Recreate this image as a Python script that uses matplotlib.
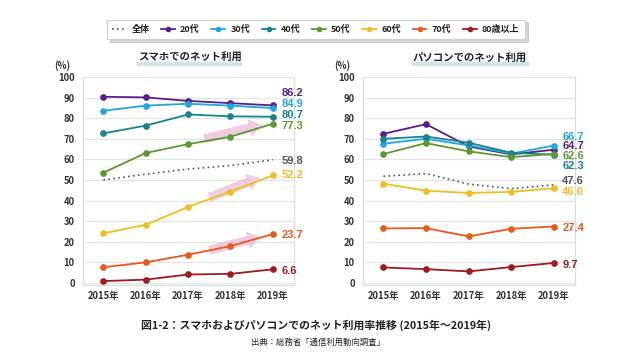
import matplotlib
matplotlib.use("Agg")
import matplotlib.pyplot as plt
from matplotlib.patches import FancyArrowPatch, Rectangle
from matplotlib.lines import Line2D

plt.rcParams['font.family'] = ['Noto Sans CJK JP', 'DejaVu Sans']

years = [2015, 2016, 2017, 2018, 2019]
year_labels = ["2015年", "2016年", "2017年", "2018年", "2019年"]
groups = ["全体", "20代", "30代", "40代", "50代", "60代", "70代", "80歳以上"]

smart = {
    "全体":   [50.0, 52.8, 55.3, 57.0, 59.8],
    "20代":   [90.4, 90.1, 88.4, 87.3, 86.2],
    "30代":   [83.6, 86.1, 87.0, 86.1, 84.9],
    "40代":   [72.6, 76.4, 81.8, 80.9, 80.7],
    "50代":   [53.5, 63.1, 67.4, 71.0, 77.3],
    "60代":   [24.1, 28.2, 36.9, 44.4, 52.2],
    "70代":   [7.6, 10.0, 13.7, 17.9, 23.7],
    "80歳以上": [0.9, 1.6, 4.1, 4.4, 6.6],
}
pc = {
    "全体":   [51.8, 53.1, 48.0, 45.8, 47.6],
    "20代":   [72.4, 77.1, 66.3, 62.4, 64.7],
    "30代":   [67.6, 70.0, 66.8, 62.8, 66.7],
    "40代":   [70.0, 71.1, 68.1, 63.2, 62.3],
    "50代":   [62.6, 67.9, 63.9, 61.1, 62.6],
    "60代":   [48.2, 44.8, 43.7, 44.2, 46.0],
    "70代":   [26.5, 26.6, 22.6, 26.3, 27.4],
    "80歳以上": [7.5, 6.7, 5.6, 7.7, 9.7],
}
# label vertical positions (adjusted to avoid overlap)
smart_label_y = {"全体": 59.4, "20代": 92.3, "30代": 87.0, "40代": 81.6, "50代": 76.3,
                 "60代": 52.2, "70代": 23.2, "80歳以上": 5.9}
pc_label_y = {"全体": 49.3, "20代": 66.7, "30代": 71.0, "40代": 57.0, "50代": 61.8,
              "60代": 44.0, "70代": 26.6, "80歳以上": 8.8}

colors = {"全体": "#555555", "20代": "#5a1e8a", "30代": "#1ea7e1", "40代": "#17848f",
          "50代": "#5a9a30", "60代": "#f0be24", "70代": "#e85a1a", "80歳以上": "#9e1b20"}
label_colors = dict(colors)
label_colors["全体"] = "#555555"

yticks = [0, 10, 20, 30, 40, 50, 60, 70, 80, 90, 100]

fig = plt.figure(figsize=(6.4, 3.6), dpi=100)
fig.patch.set_facecolor("white")

axL = fig.add_axes([83/640, 1-285/360, 211/640, 208/360])
axR = fig.add_axes([363/640, 1-285/360, 212/640, 208/360])

def draw(ax, data, label_y, title, title_cx, band):
    for g in groups:
        if g == "全体":
            ax.plot(years, data[g], color=colors[g], lw=1.2, linestyle=(0, (1, 2)),
                    zorder=3)
        else:
            ax.plot(years, data[g], color=colors[g], lw=1.3, marker='o', ms=3.8,
                    zorder=4)
        ax.text(2019.2, label_y[g], f"{data[g][-1]:.1f}", color=label_colors[g],
                fontsize=8, fontweight='bold', va='center', ha='left', zorder=6,
                family=['Liberation Sans', 'DejaVu Sans'])
    ax.set_ylim(-1, 100)
    ax.set_xlim(2014.52, 2019.5)
    ax.set_yticks(yticks)
    ax.set_xticks(years)
    ax.set_xticklabels(year_labels)
    ax.tick_params(length=0, labelsize=6.8, colors="#333333")
    ax.tick_params(axis='y', pad=6)
    ax.tick_params(axis='x', pad=4)
    for lab in ax.get_xticklabels() + ax.get_yticklabels():
        lab.set_fontweight('bold')
    ax.grid(axis='y', color="#e3e3e3", lw=0.8)
    ax.set_axisbelow(True)
    for s in ['left', 'right', 'bottom']:
        ax.spines[s].set_color("#dddddd")
        ax.spines[s].set_linewidth(0.9)
    ax.spines['top'].set_visible(False)
    ax.text(-0.1, 1.055, "(%)", transform=ax.transAxes, fontsize=6.8,
            fontweight='bold', color="#333333", ha='center', va='center')
    fig.patches.append(Rectangle((band[0]/640, 1-65/360), (band[1]-band[0])/640, 3.5/360,
                                 transform=fig.transFigure, color="#d6e2ea", zorder=0))
    fig.text(title_cx/640, 1-58/360, title, fontsize=7.5, fontweight='bold',
             color="#222222", ha='center', va='center', zorder=2)

draw(axL, smart, smart_label_y, "スマホでのネット利用", 190, (137, 241))
draw(axR, pc, pc_label_y, "パソコンでのネット利用", 470, (412, 528))

# pink trend arrows on smartphone chart
arrows = [((2017.32, 69.7), (2018.8, 77.0)),
          ((2017.44, 41.1), (2018.75, 51.6)),
          ((2017.44, 15.6), (2018.76, 22.6))]
for (s, e) in arrows:
    a = FancyArrowPatch(s, e, arrowstyle="simple,head_width=13,head_length=9,tail_width=6.5",
                        mutation_scale=1, color="#edc3dc", alpha=0.85, lw=0, zorder=2)
    axL.add_patch(a)

# legend
handles = []
for g in groups:
    if g == "全体":
        handles.append(Line2D([], [], color=colors[g], lw=1.2, linestyle=(0, (1, 2))))
    else:
        handles.append(Line2D([], [], color=colors[g], lw=1.3, marker='o', ms=3))
leg = fig.legend(handles, groups, ncol=8, loc='center', bbox_to_anchor=(316/640, 1-29.5/360),
                 fontsize=6.5, frameon=True, fancybox=False,
                 shadow={'color': '#bbbbbb', 'alpha': 0.6},
                 handlelength=1.5, handletextpad=0.6, columnspacing=1.3,
                 borderpad=0.6, edgecolor="#d0d0d0")
for t in leg.get_texts():
    t.set_fontweight('bold')
    t.set_color("#222222")
leg.get_frame().set_linewidth(0.8)

fig.text(316/640, 1-325/360, "図1-2：スマホおよびパソコンでのネット利用率推移 (2015年～2019年)",
         fontsize=7.8, fontweight='bold', color="#222222", ha='center', va='center')
fig.text(318/640, 1-342/360, "出典：総務省「通信利用動向調査」",
         fontsize=6, color="#222222", ha='center', va='center')

fig.savefig("out.png", dpi=100, facecolor="white")
